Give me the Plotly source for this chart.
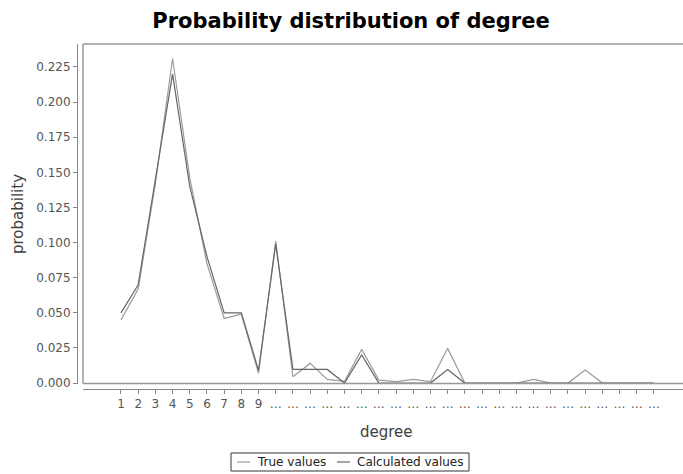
import plotly.graph_objects as go

# ---- data ----
categories = ["1", "2", "3", "4", "5", "6", "7", "8", "9"] + ["…"] * 23
true_values = [0.045, 0.067, 0.142, 0.231, 0.146, 0.085, 0.046, 0.049, 0.007, 0.101,
               0.0045, 0.014, 0.0026, 0.0012, 0.024, 0.0021, 0.001, 0.0026, 0.001, 0.0247,
               0.0, 0.0, 0.0, 0.0, 0.0026, 0.0, 0.0, 0.0093, 0.0, 0.0, 0.0, 0.0]
calculated_values = [0.050, 0.070, 0.145, 0.220, 0.140, 0.090, 0.050, 0.050, 0.009, 0.099,
                     0.0097, 0.0097, 0.0097, 0.0, 0.020, 0.0, 0.0, 0.0, 0.0, 0.0097,
                     0.0, 0.0, 0.0, 0.0, 0.0, 0.0, 0.0, 0.0, 0.0, 0.0, 0.0, 0.0]
y_ticks = [0.0, 0.025, 0.05, 0.075, 0.1, 0.125, 0.15, 0.175, 0.2, 0.225]
series_names = ["True values", "Calculated values"]
series_colors = ["#9c9c9c", "#666666"]

W, H = 683, 474
idx = list(range(len(categories)))

# plot area in pixels
px_left, px_right, px_top, px_bottom = 83, 683, 44, 383.5
xd = [px_left / W, 1.0]
yd = [(H - px_bottom) / H, (H - px_top) / H]


def px(x):
    return x / W


def py(y):
    return (H - y) / H


fig = go.Figure()
for vals, name, col in zip([true_values, calculated_values], series_names, series_colors):
    fig.add_trace(go.Scatter(x=idx, y=vals, mode="lines", name=name,
                             line=dict(color=col, width=1.2), showlegend=False))

# legend drawn as a JFreeChart-style box
leg_y = 462
legend_shapes = [
    dict(type="rect", xref="paper", yref="paper", x0=px(231), x1=px(469), y0=py(471), y1=py(453),
         line=dict(color="#333333", width=1), fillcolor="white"),
    dict(type="line", xref="paper", yref="paper", x0=px(237), x1=px(250), y0=py(leg_y), y1=py(leg_y),
         line=dict(color=series_colors[0], width=1.2)),
    dict(type="line", xref="paper", yref="paper", x0=px(337), x1=px(350), y0=py(leg_y), y1=py(leg_y),
         line=dict(color=series_colors[1], width=1.2)),
]
legend_texts = [
    dict(text=series_names[0], x=px(255), y=py(leg_y), xref="paper", yref="paper",
         showarrow=False, xanchor="left", yanchor="middle",
         font=dict(size=12, color="#222222")),
    dict(text=series_names[1], x=px(355), y=py(leg_y), xref="paper", yref="paper",
         showarrow=False, xanchor="left", yanchor="middle",
         font=dict(size=12, color="#222222")),
]

frame_shapes = [
    dict(type="line", xref="paper", yref="paper", x0=xd[0], x1=1.0, y0=yd[1], y1=yd[1],
         line=dict(color="#999999", width=1.5)),
    dict(type="line", xref="paper", yref="paper", x0=xd[0], x1=xd[0], y0=yd[0], y1=yd[1],
         line=dict(color="#999999", width=1.5)),
    dict(type="line", xref="paper", yref="paper", x0=xd[0], x1=1.0, y0=yd[0], y1=yd[0],
         line=dict(color="#999999", width=1.5)),
]

fig.update_layout(
    width=W, height=H,
    margin=dict(l=0, r=0, t=0, b=0, autoexpand=False),
    paper_bgcolor="white", plot_bgcolor="white",
    font=dict(family="DejaVu Sans", color="#404040"),
    title=dict(text="<b>Probability distribution of degree</b>",
               x=351 / W, xanchor="center", y=(H - 21) / H, yanchor="middle",
               xref="container", yref="container",
               font=dict(family="DejaVu Sans", size=21, color="#000000")),
    xaxis=dict(domain=xd, range=[-2.21, 32.69], anchor="free", position=py(389),
               automargin=False,
               tickmode="array", tickvals=idx, ticktext=categories,
               showline=True, linecolor="#888888", linewidth=1,
               ticks="outside", ticklen=4, tickcolor="#888888",
               tickfont=dict(size=12, color="#555555"),
               showgrid=False, zeroline=False),
    yaxis=dict(domain=yd, range=[-0.0003, 0.2413], anchor="free", position=px(77),
               automargin=False,
               tickmode="array", tickvals=y_ticks,
               ticktext=[f"{v:.3f}" for v in y_ticks],
               showline=True, linecolor="#888888", linewidth=1,
               ticks="outside", ticklen=4, tickcolor="#888888",
               tickfont=dict(size=12, color="#555555"),
               showgrid=False, zeroline=False),
    showlegend=False,
    annotations=[
        dict(text="degree", x=px(386.5), y=py(432), xref="paper", yref="paper",
             showarrow=False, xanchor="center", yanchor="middle",
             font=dict(size=15, color="#404040")),
        dict(text="probability", x=px(18), y=py(214), xref="paper", yref="paper",
             showarrow=False, xanchor="center", yanchor="middle", textangle=-90,
             font=dict(size=15, color="#404040")),
    ] + legend_texts,
    shapes=frame_shapes + legend_shapes,
)

fig.write_html("out.html",
               config={"displayModeBar": False},
               post_script="document.body.style.margin='0';document.body.style.overflow='hidden';")
